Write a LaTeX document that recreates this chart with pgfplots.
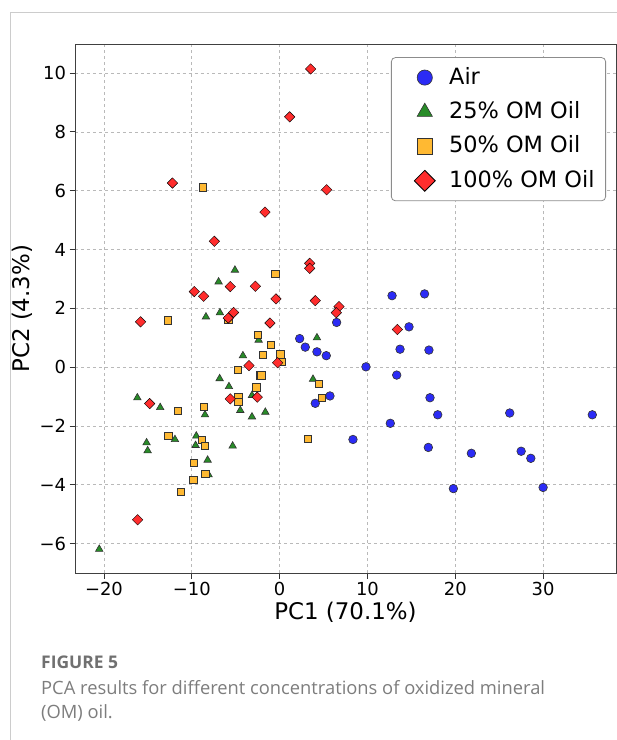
\documentclass[border=0pt]{standalone}
\usepackage{fontspec}
\setmainfont{DejaVu Sans}
\newfontfamily\capfont{Open Sans}
\usepackage{pgfplots}
\pgfplotsset{compat=1.18}
\definecolor{airblue}{RGB}{43,43,245}
\definecolor{omgreen}{RGB}{40,140,40}
\definecolor{omorange}{RGB}{255,185,50}
\definecolor{omred}{RGB}{255,45,45}
\definecolor{capgray}{RGB}{125,125,125}

\begin{document}
\begin{tikzpicture}
\path[use as bounding box] (0bp,0bp) rectangle (617bp,-740bp);
\draw[black!20, line width=1bp] (10bp,-740bp) -- (10bp,-12bp) -- (617bp,-12bp);
\begin{axis}[
    at={(75bp,-573bp)}, anchor=south west,
    scale only axis, width=541bp, height=528.5bp,
    xmin=-23.3, xmax=38.3, ymin=-7, ymax=10.97,
    xtick={-20,-10,0,10,20,30},
    xticklabels={−20,−10,0,10,20,30},
    ytick={-6,-4,-2,0,2,4,6,8,10},
    yticklabels={−6,−4,−2,0,2,4,6,8,10},
    xtick pos=left, ytick pos=left,
    tick align=outside, major tick length=5.5bp,
    tick style={black!80, line width=0.8bp},
    axis line style={black!75, line width=1bp},
    grid=major,
    grid style={gray!55, dashed, line width=0.7bp},
    ticklabel style={font=\fontsize{18}{21}\selectfont},
    label style={font=\fontsize{23}{27}\selectfont},
    xlabel={PC1 (70.1\%)},
    ylabel={PC2 (4.3\%)},
    legend cell align=left,
    legend image code/.code={%
        \path (0bp,0bp) (46bp,0bp);
        \draw[#1] plot coordinates {(22bp,0bp)};},
    legend style={at={(0.9815,0.976)}, anchor=north east,
        font=\fontsize{22.5}{26}\selectfont, rounded corners=4bp,
        draw=black!45, line width=0.8bp, row sep=13.4bp,
        inner xsep=11bp, inner ysep=9.5bp,
        nodes={inner xsep=0bp, inner ysep=0bp, text height=17bp, text depth=4bp}},
    mark options={draw=black!80, line width=0.6bp},
]
% Air
\addplot[only marks, mark=*, mark size=4.3bp, fill=airblue,
    legend image post style={mark size=7.6bp}] coordinates {
(12.8,2.43) (16.5,2.49) (6.49,1.52) (2.28,0.97) (2.92,0.68) (4.25,0.52)
(5.31,0.39) (5.73,-0.98) (4.06,-1.23) (14.73,1.37) (13.71,0.61) (17.0,0.58)
(9.83,0.01) (13.33,-0.27) (17.12,-1.04) (18.0,-1.62) (26.2,-1.56) (35.6,-1.62)
(12.6,-1.91) (8.35,-2.46) (16.93,-2.73) (21.83,-2.93) (27.5,-2.86) (28.6,-3.1)
(19.78,-4.13) (30.0,-4.09)
};
\addlegendentry{Air}
% 25% OM oil
\addplot[only marks, mark=triangle*, mark size=4.3bp, fill=omgreen,
    legend image post style={mark size=8.8bp}] coordinates {
(-5.09,3.30) (-6.95,2.90) (-8.39,1.71) (-6.8,1.85) (-2.39,0.92) (4.25,1.0)
(-4.18,0.39) (-6.83,-0.39) (-5.77,-0.66) (3.80,-0.41) (-16.2,-1.04) (-13.6,-1.37)
(-8.5,-1.62) (-3.15,-0.96) (-4.48,-1.47) (-3.15,-1.69) (-1.63,-1.53) (-11.92,-2.46)
(-15.15,-2.57) (-15.03,-2.84) (-9.49,-2.34) (-9.57,-2.66) (-5.35,-2.68) (-8.2,-3.16)
(-8.09,-3.66) (-20.54,-6.19)
};
\addlegendentry{25\% OM Oil}
% 50% OM oil
\addplot[only marks, mark=square*, mark size=3.7bp, fill=omorange,
    legend image post style={mark size=7.6bp}] coordinates {
(-8.73,6.11) (-0.49,3.17) (-12.72,1.59) (-5.85,1.6) (-2.5,1.10) (-1.03,0.76)
(-1.94,0.42) (0.07,0.43) (0.22,0.18) (-4.78,-0.10) (-2.2,-0.28) (-2.1,-0.28)
(-2.66,-0.69) (4.48,-0.57) (4.82,-1.04) (-11.6,-1.49) (-8.66,-1.35) (-4.71,-1.03)
(-4.71,-1.17) (3.23,-2.44) (-12.68,-2.34) (-8.85,-2.48) (-8.54,-2.67) (-9.79,-3.26)
(-8.47,-3.63) (-9.83,-3.84) (-11.24,-4.24)
};
\addlegendentry{50\% OM Oil}
% 100% OM oil
\addplot[only marks, mark=square*, mark size=3.7bp, fill=omred,
    mark options={rotate=45},
    legend image post style={mark size=7.4bp}] coordinates {
(3.53,10.14) (1.14,8.51) (-12.2,6.26) (5.35,6.03) (-1.67,5.27) (-7.44,4.28)
(3.42,3.53) (3.42,3.36) (-9.72,2.57) (-8.66,2.41) (-5.62,2.74) (-2.77,2.75)
(-0.42,2.32) (4.06,2.26) (6.76,2.06) (6.45,1.85) (-15.83,1.54) (-5.24,1.86)
(-5.85,1.67) (-1.1,1.5) (-0.23,0.15) (-3.49,0.05) (-14.8,-1.24) (-5.62,-1.08)
(-2.54,-1.02) (13.4,1.28) (-16.17,-5.19)
};
\addlegendentry{100\% OM Oil}
\end{axis}
\node[anchor=base west, inner sep=0pt, text=capgray!90!black,
    font=\capfont\bfseries\fontsize{17.5}{20}\selectfont] at (41bp,-668bp) {FIGURE 5};
\node[anchor=base west, inner sep=0pt, text=capgray,
    font=\capfont\fontsize{18.4}{22}\selectfont] at (41bp,-694bp)
    {PCA results for different concentrations of oxidized mineral};
\node[anchor=base west, inner sep=0pt, text=capgray,
    font=\capfont\fontsize{18.4}{22}\selectfont] at (41bp,-718bp) {(OM) oil.};
\end{tikzpicture}
\end{document}
